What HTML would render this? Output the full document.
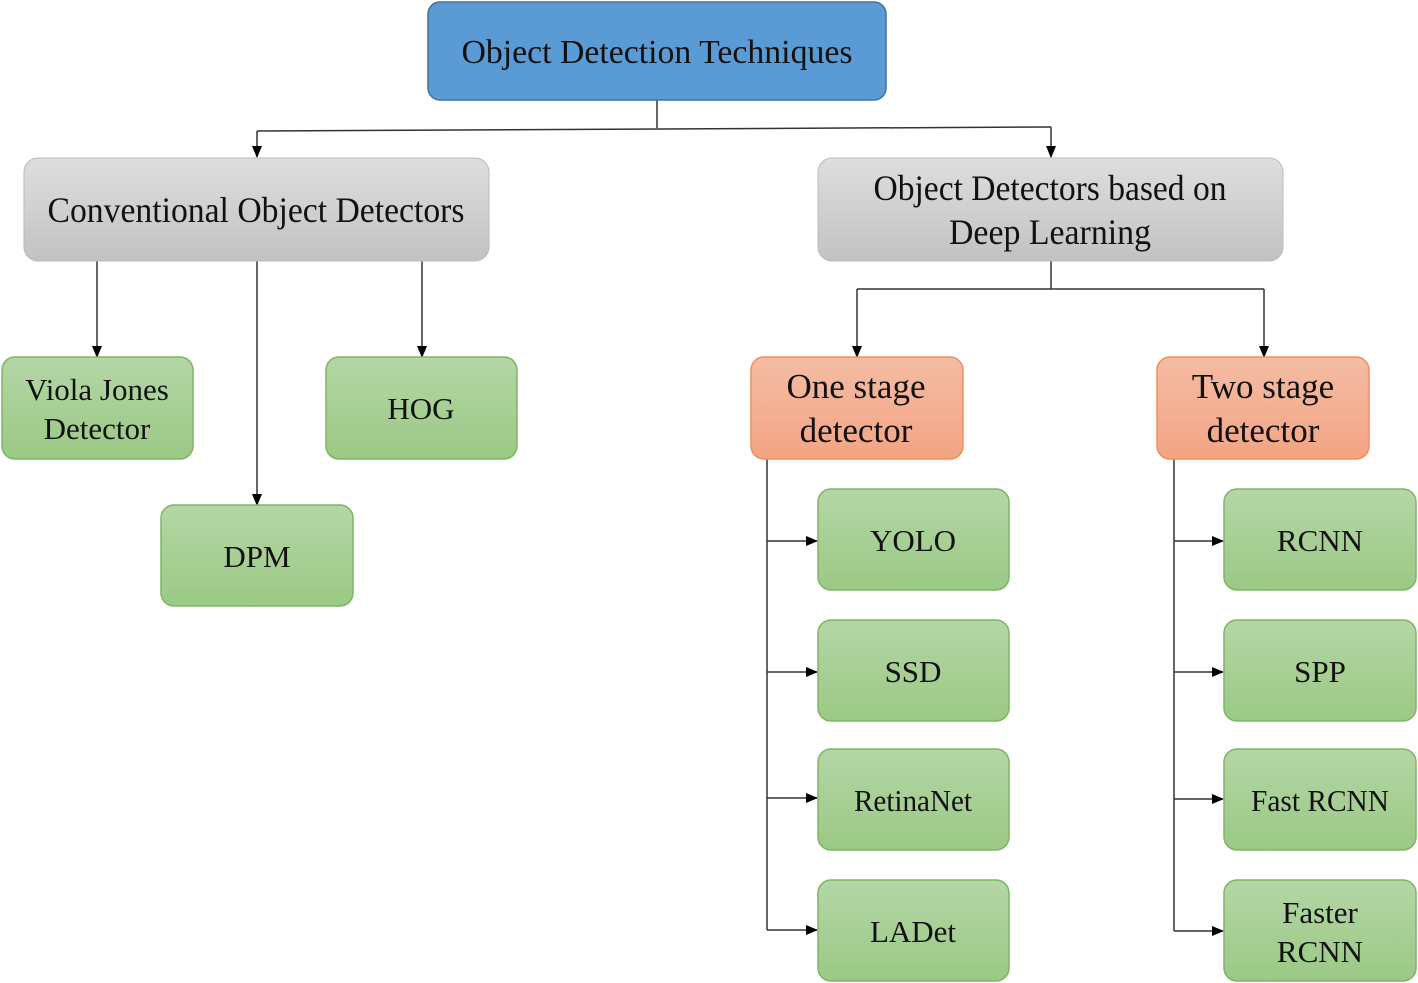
<!DOCTYPE html>
<html><head><meta charset="utf-8"><style>
html,body{margin:0;padding:0;background:#fff;}
svg{display:block;}
text{font-family:"Liberation Serif",serif;fill:#111;text-anchor:middle;}
</style></head><body>
<svg width="1418" height="983" viewBox="0 0 1418 983" xmlns="http://www.w3.org/2000/svg">
<defs>
<linearGradient id="g" x1="0" y1="0" x2="0" y2="1"><stop offset="0" stop-color="#b4d6a6"/><stop offset="1" stop-color="#9bc985"/></linearGradient>
<linearGradient id="o" x1="0" y1="0" x2="0" y2="1"><stop offset="0" stop-color="#f5bca4"/><stop offset="1" stop-color="#f3a483"/></linearGradient>
<linearGradient id="gr" x1="0" y1="0" x2="0" y2="1"><stop offset="0" stop-color="#dedede"/><stop offset="1" stop-color="#c2c2c2"/></linearGradient>
<marker id="a" markerWidth="12" markerHeight="12" refX="11" refY="6" orient="auto" markerUnits="userSpaceOnUse"><path d="M0,1 L12,6 L0,11 Z" fill="#000"/></marker>
</defs>
<g stroke="#333" stroke-width="1.5" fill="none">
<path d="M657,100 V128"/>
<path d="M257,131 L1051,127"/>
<path d="M257,131 V157" marker-end="url(#a)"/>
<path d="M1051,127 V157" marker-end="url(#a)"/>
<path d="M97,261 V357" marker-end="url(#a)"/>
<path d="M257,261 V505" marker-end="url(#a)"/>
<path d="M422,261 V357" marker-end="url(#a)"/>
<path d="M1051,261 V289 M857,289 H1264"/>
<path d="M857,289 V357" marker-end="url(#a)"/>
<path d="M1264,289 V357" marker-end="url(#a)"/>
<path d="M767,459 V930"/>
<path d="M767,541 H817" marker-end="url(#a)"/>
<path d="M767,672 H817" marker-end="url(#a)"/>
<path d="M767,798 H817" marker-end="url(#a)"/>
<path d="M767,930 H817" marker-end="url(#a)"/>
<path d="M1174,459 V931"/>
<path d="M1174,541 H1223" marker-end="url(#a)"/>
<path d="M1174,672 H1223" marker-end="url(#a)"/>
<path d="M1174,799 H1223" marker-end="url(#a)"/>
<path d="M1174,931 H1223" marker-end="url(#a)"/>
</g>
<rect x="428" y="2" width="458" height="98" rx="12" fill="#5b9bd5" stroke="#41719c" stroke-width="1.5"/>
<text x="657" y="63" font-size="34" textLength="391" lengthAdjust="spacingAndGlyphs">Object Detection Techniques</text>
<rect x="24" y="158" width="465" height="103" rx="14" fill="url(#gr)" stroke="#bbb"/>
<text x="256" y="222" font-size="36" textLength="417" lengthAdjust="spacingAndGlyphs">Conventional Object Detectors</text>
<rect x="818" y="158" width="465" height="103" rx="14" fill="url(#gr)" stroke="#bbb"/>
<text x="1050" y="200" font-size="36" textLength="353" lengthAdjust="spacingAndGlyphs">Object Detectors based on</text>
<text x="1050" y="244" font-size="36" textLength="202" lengthAdjust="spacingAndGlyphs">Deep Learning</text>
<g fill="url(#g)" stroke="#7fb564" stroke-width="1.5">
<rect x="2" y="357" width="191" height="102" rx="13"/>
<rect x="326" y="357" width="191" height="102" rx="13"/>
<rect x="161" y="505" width="192" height="101" rx="13"/>
<rect x="818" y="489" width="191" height="101" rx="13"/>
<rect x="818" y="620" width="191" height="101" rx="13"/>
<rect x="818" y="749" width="191" height="101" rx="13"/>
<rect x="818" y="880" width="191" height="101" rx="13"/>
<rect x="1224" y="489" width="192" height="101" rx="13"/>
<rect x="1224" y="620" width="192" height="101" rx="13"/>
<rect x="1224" y="749" width="192" height="101" rx="13"/>
<rect x="1224" y="880" width="192" height="101" rx="13"/>
</g>
<g fill="url(#o)" stroke="#f0905e" stroke-width="1.5">
<rect x="751" y="357" width="212" height="102" rx="13"/>
<rect x="1157" y="357" width="212" height="102" rx="13"/>
</g>
<g font-size="31">
<text x="97" y="400">Viola Jones</text>
<text x="97" y="439">Detector</text>
<text x="421" y="419">HOG</text>
<text x="257" y="567">DPM</text>
<text x="913" y="551">YOLO</text>
<text x="913" y="682">SSD</text>
<text x="913" y="811" textLength="118" lengthAdjust="spacingAndGlyphs">RetinaNet</text>
<text x="913" y="942">LADet</text>
<text x="1320" y="551">RCNN</text>
<text x="1320" y="682">SPP</text>
<text x="1320" y="811" textLength="138" lengthAdjust="spacingAndGlyphs">Fast RCNN</text>
<text x="1320" y="923">Faster</text>
<text x="1320" y="962">RCNN</text>
</g>
<g font-size="35">
<text x="856" y="398">One stage</text>
<text x="856" y="442">detector</text>
<text x="1263" y="398">Two stage</text>
<text x="1263" y="442">detector</text>
</g>
</svg>
</body></html>
